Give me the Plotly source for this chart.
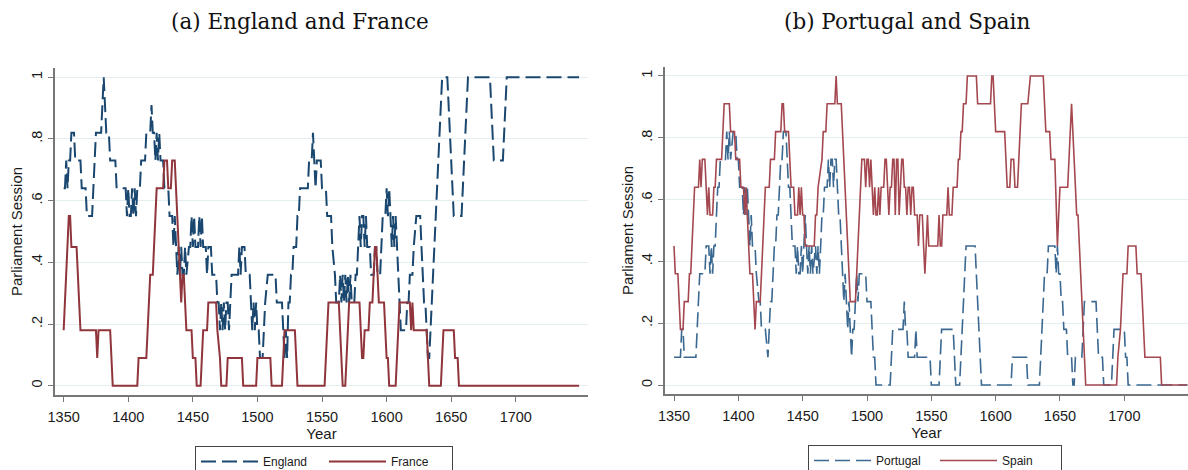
import plotly.graph_objects as go

# ---------------- data (vertices) ----------------
england_year = [1350,1351,1352,1353,1354,1355,1356,1358,1359,1363,1364,1367,1368,1372,1373,1374,1375,1379,1380,1381,1382,1383,1385,1386,1390,1391,1398,1399,1400,1401,1402,1403,1404,1405,1406,1407,1409,1410,1411,1413,1414,1417,1418,1419,1420,1421,1422,1423,1424,1425,1427,1428,1431,1432,1434,1435,1436,1437,1438,1439,1440,1441,1442,1443,1444,1445,1447,1448,1449,1450,1451,1452,1454,1455,1456,1457,1458,1460,1461,1462,1464,1465,1466,1468,1469,1470,1471,1472,1473,1474,1475,1476,1477,1478,1479,1480,1481,1485,1486,1487,1488,1490,1491,1494,1495,1496,1497,1498,1499,1500,1501,1502,1504,1505,1506,1508,1514,1515,1519,1520,1521,1522,1523,1524,1525,1526,1527,1528,1530,1531,1532,1533,1539,1540,1542,1543,1544,1545,1546,1549,1550,1553,1554,1557,1558,1560,1561,1563,1564,1565,1566,1567,1568,1569,1570,1571,1572,1573,1575,1576,1577,1578,1579,1580,1581,1582,1583,1584,1585,1587,1588,1590,1591,1592,1593,1595,1596,1597,1599,1600,1601,1602,1603,1604,1605,1606,1607,1608,1609,1610,1611,1615,1616,1617,1618,1620,1621,1623,1626,1627,1628,1629,1630,1631,1632,1633,1634,1635,1636,1637,1638,1639,1640,1641,1642,1643,1647,1648,1649,1650,1651,1652,1658,1659,1660,1661,1662,1663,1680,1681,1682,1683,1690,1691,1692,1693,1749]
england_val = [.64,.64,.73,.64,.73,.73,.82,.82,.73,.73,.64,.64,.55,.55,.64,.73,.82,.82,.91,1.0,.91,.82,.82,.73,.73,.64,.64,.55,.64,.55,.55,.64,.55,.64,.55,.64,.64,.73,.73,.73,.82,.82,.91,.82,.82,.73,.82,.73,.82,.73,.73,.64,.64,.55,.55,.45,.55,.45,.36,.45,.36,.45,.36,.36,.45,.36,.45,.45,.55,.45,.55,.45,.45,.55,.45,.55,.45,.45,.36,.45,.45,.36,.36,.36,.27,.27,.18,.27,.18,.27,.18,.27,.27,.18,.27,.36,.36,.36,.45,.36,.45,.45,.36,.36,.27,.18,.27,.18,.27,.18,.18,.09,.09,.18,.27,.36,.36,.27,.27,.18,.09,.18,.09,.27,.27,.36,.36,.45,.45,.55,.55,.64,.64,.73,.73,.82,.73,.64,.73,.73,.64,.64,.55,.55,.45,.36,.27,.27,.36,.27,.36,.27,.36,.27,.36,.27,.36,.27,.27,.36,.36,.45,.55,.45,.55,.55,.45,.55,.45,.45,.36,.36,.45,.45,.36,.36,.45,.55,.55,.64,.55,.64,.55,.45,.55,.45,.55,.45,.36,.27,.18,.18,.27,.27,.36,.36,.45,.55,.55,.45,.36,.27,.27,.18,.09,.09,.18,.27,.36,.45,.55,.64,.73,.82,.91,1.0,1.0,.91,.82,.73,.64,.55,.55,.64,.73,.82,.91,1.0,1.0,.91,.82,.73,.73,.82,.91,1.0,1.0]

france_year = [1350,1351,1352,1353,1354,1355,1356,1360,1361,1362,1363,1375,1376,1377,1386,1387,1388,1407,1408,1414,1415,1416,1417,1419,1420,1421,1422,1427,1428,1430,1431,1433,1434,1436,1437,1438,1439,1440,1441,1442,1443,1444,1445,1449,1450,1452,1453,1456,1457,1458,1461,1462,1468,1469,1471,1472,1476,1477,1488,1489,1499,1500,1510,1511,1519,1520,1521,1529,1530,1531,1552,1553,1554,1555,1563,1564,1565,1566,1568,1569,1570,1571,1579,1580,1581,1582,1583,1586,1587,1589,1590,1591,1592,1593,1594,1597,1598,1599,1600,1601,1602,1607,1608,1609,1610,1618,1619,1620,1621,1622,1631,1632,1633,1642,1643,1644,1652,1653,1655,1656,1749]
france_val = [.18,.27,.36,.45,.55,.55,.45,.45,.36,.27,.18,.18,.09,.18,.18,.09,0,0,.09,.09,.18,.27,.36,.36,.45,.55,.64,.64,.73,.73,.64,.64,.73,.73,.64,.55,.45,.36,.27,.36,.36,.27,.18,.18,.09,.09,0,0,.09,.18,.18,.27,.27,.18,.09,0,0,.09,.09,0,0,.09,.09,0,0,.09,.18,.18,.09,0,0,.09,.18,.27,.27,.18,.09,0,0,.09,.18,.27,.27,.18,.09,.09,.18,.18,.27,.27,.36,.45,.45,.36,.27,.27,.27,.18,.09,.09,0,0,.09,.18,.27,.27,.18,.27,.18,.18,.18,.09,0,0,.09,.18,.18,.09,.09,0,0]

portugal_year = [1350,1355,1356,1357,1358,1367,1368,1369,1370,1374,1375,1377,1378,1379,1380,1381,1382,1383,1384,1385,1386,1390,1391,1392,1393,1394,1396,1398,1399,1400,1401,1403,1404,1405,1406,1407,1408,1409,1410,1411,1413,1414,1416,1417,1418,1421,1423,1424,1425,1426,1427,1428,1429,1430,1431,1432,1433,1434,1435,1437,1438,1439,1440,1441,1442,1444,1445,1446,1447,1448,1449,1450,1451,1452,1453,1454,1455,1456,1457,1458,1460,1461,1462,1463,1464,1465,1466,1467,1469,1470,1471,1472,1473,1474,1475,1476,1477,1478,1479,1480,1481,1482,1483,1484,1485,1486,1487,1488,1489,1490,1491,1492,1493,1494,1499,1500,1503,1504,1505,1506,1507,1518,1519,1520,1528,1529,1530,1531,1532,1537,1538,1539,1549,1550,1556,1557,1558,1567,1568,1569,1572,1573,1574,1575,1576,1577,1584,1585,1586,1587,1588,1589,1612,1613,1624,1625,1634,1635,1636,1637,1638,1640,1641,1646,1647,1648,1649,1650,1651,1652,1653,1655,1656,1659,1660,1661,1662,1667,1668,1669,1678,1679,1680,1683,1684,1690,1691,1692,1700,1701,1702,1703,1749]
portugal_val = [.09,.09,.18,.18,.09,.09,.18,.27,.36,.36,.45,.45,.36,.45,.36,.45,.45,.55,.64,.64,.73,.73,.82,.73,.82,.73,.82,.82,.73,.73,.64,.64,.55,.64,.55,.64,.55,.45,.55,.45,.45,.36,.27,.27,.18,.18,.09,.18,.27,.27,.36,.45,.45,.55,.55,.64,.73,.73,.82,.82,.73,.64,.64,.55,.45,.45,.36,.45,.36,.36,.45,.36,.45,.55,.45,.36,.45,.36,.45,.36,.45,.36,.45,.36,.45,.55,.55,.64,.64,.73,.64,.73,.73,.64,.73,.73,.64,.55,.55,.45,.36,.27,.36,.27,.18,.27,.18,.09,.18,.18,.27,.36,.27,.36,.36,.27,.27,.18,.09,.09,0,0,.09,.18,.18,.27,.18,.18,.09,.09,.18,.09,.09,0,0,.09,.18,.18,.09,0,0,.09,.18,.27,.36,.45,.45,.36,.27,.18,.09,0,0,.09,.09,0,0,.09,.18,.27,.36,.36,.45,.45,.36,.45,.36,.36,.27,.27,.18,.18,.09,.09,0,0,.09,.09,.18,.27,.27,.18,.09,.09,0,0,.09,.18,.18,.09,.09,0,0]

spain_year = [1350,1351,1353,1354,1355,1357,1358,1361,1362,1363,1364,1365,1366,1369,1370,1371,1372,1374,1375,1376,1377,1378,1380,1381,1382,1383,1387,1388,1389,1393,1394,1397,1398,1401,1402,1404,1405,1406,1407,1408,1409,1411,1412,1413,1414,1417,1418,1419,1420,1421,1424,1425,1428,1429,1433,1434,1435,1436,1439,1440,1441,1443,1444,1446,1447,1448,1449,1450,1451,1452,1459,1460,1461,1462,1465,1466,1468,1469,1475,1476,1477,1480,1481,1482,1483,1484,1485,1486,1487,1491,1492,1493,1494,1495,1496,1498,1499,1500,1501,1502,1503,1504,1505,1506,1507,1508,1509,1510,1511,1513,1514,1515,1516,1517,1518,1519,1520,1521,1522,1523,1524,1525,1526,1527,1528,1529,1530,1531,1532,1533,1534,1535,1536,1537,1539,1540,1541,1543,1544,1545,1546,1547,1548,1555,1556,1557,1558,1559,1562,1563,1564,1566,1567,1570,1571,1572,1573,1574,1575,1577,1578,1585,1586,1596,1597,1598,1599,1600,1607,1608,1609,1611,1612,1614,1615,1617,1618,1619,1620,1625,1627,1637,1638,1639,1642,1643,1646,1647,1648,1649,1650,1656,1657,1658,1659,1660,1661,1662,1663,1664,1665,1666,1667,1668,1669,1670,1694,1695,1697,1698,1699,1702,1703,1709,1710,1713,1714,1715,1716,1728,1729,1749]
spain_val = [.45,.36,.36,.27,.18,.18,.27,.27,.36,.36,.45,.55,.64,.64,.73,.64,.73,.73,.64,.55,.64,.55,.55,.64,.64,.73,.73,.82,.91,.91,.82,.82,.73,.73,.64,.64,.55,.64,.55,.45,.36,.36,.27,.18,.27,.27,.36,.45,.55,.64,.64,.73,.73,.82,.82,.91,.91,.82,.82,.73,.64,.64,.55,.55,.64,.55,.64,.55,.55,.45,.45,.55,.55,.64,.73,.82,.82,.91,.91,1.0,.91,.91,.82,.73,.64,.55,.45,.36,.27,.27,.36,.45,.55,.64,.73,.73,.64,.73,.73,.64,.73,.64,.55,.64,.55,.55,.64,.55,.64,.64,.73,.73,.64,.55,.64,.64,.73,.73,.55,.73,.73,.55,.64,.73,.73,.64,.64,.55,.64,.64,.55,.64,.64,.55,.55,.45,.55,.55,.45,.36,.45,.55,.45,.45,.55,.45,.45,.55,.55,.64,.55,.55,.64,.64,.73,.73,.82,.82,.91,.91,1.0,1.0,.91,.91,1.0,1.0,.91,.82,.82,.73,.64,.64,.73,.73,.64,.64,.73,.82,.91,.91,1.0,1.0,.91,.82,.82,.73,.73,.55,.45,.55,.64,.64,.73,.82,.91,.82,.73,.64,.55,.55,.45,.36,.27,.18,.09,0,0,.09,.18,.27,.36,.36,.45,.45,.36,.36,.27,.18,.09,.09,0,0]

x_ticks = [1350, 1400, 1450, 1500, 1550, 1600, 1650, 1700]
y_ticks = [0, 0.2, 0.4, 0.6, 0.8, 1.0]
y_tick_text = ["0", ".2", ".4", ".6", ".8", "1"]

titles = ["(a) England and France", "(b) Portugal and Spain"]

# ---------------- styling ----------------
W, H = 1188, 470
NAVY = "#1a476f"
MAROON = "#90353b"
NAVY2 = "#3a6890"
MAROON2 = "#a4474f"
GRID = "#e4edf0"
AXIS = "#777777"
TXT = "#1a1a1a"
FONT = "Liberation Sans, Arial, sans-serif"

fig = go.Figure()
fig.add_trace(go.Scatter(x=england_year, y=england_val, mode="lines", name="England",
                         line=dict(color=NAVY, width=2, dash="15px,6px"),
                         xaxis="x", yaxis="y", legend="legend"))
fig.add_trace(go.Scatter(x=france_year, y=france_val, mode="lines", name="France",
                         line=dict(color=MAROON, width=2),
                         xaxis="x", yaxis="y", legend="legend"))
fig.add_trace(go.Scatter(x=portugal_year, y=portugal_val, mode="lines", name="Portugal",
                         line=dict(color=NAVY2, width=1.6, dash="15px,6px"),
                         xaxis="x2", yaxis="y2", legend="legend2"))
fig.add_trace(go.Scatter(x=spain_year, y=spain_val, mode="lines", name="Spain",
                         line=dict(color=MAROON2, width=1.6),
                         xaxis="x2", yaxis="y2", legend="legend2"))

def xax(domain, rng):
    return dict(domain=domain, range=rng, tickvals=x_ticks, ticks="outside", ticklen=5,
                tickcolor=AXIS, tickwidth=1.2, showline=True, linecolor=AXIS, linewidth=1.5,
                showgrid=False, zeroline=False, automargin=False, ticklabelstandoff=3,
                tickfont=dict(family=FONT, size=14.5, color=TXT),
                title=dict(text="Year", font=dict(family=FONT, size=15, color=TXT), standoff=0))

def yax(domain, anchor, standoff):
    return dict(domain=domain, range=[-0.03, 1.03], tickvals=y_ticks, ticktext=y_tick_text,
                tickangle=-90, ticks="outside", ticklen=5, tickcolor=AXIS, tickwidth=1.2,
                showline=True, linecolor=AXIS, linewidth=1.5, showgrid=True, gridcolor=GRID,
                gridwidth=1.2, zeroline=False, anchor=anchor, automargin=False,
                tickfont=dict(family=FONT, size=14.5, color=TXT),
                title=dict(text="Parliament Session", font=dict(family=FONT, size=15, color=TXT),
                           standoff=standoff))

fig.update_layout(
    width=W, height=H, margin=dict(l=0, r=0, t=0, b=0, autoexpand=False),
    paper_bgcolor="white", plot_bgcolor="white",
    xaxis=dict(**xax([55 / W, 588 / W], [1343.3, 1755.9]), anchor="y"),
    yaxis=yax([1 - 395 / H, 1 - 68 / H], "x", 3),
    xaxis2=dict(**xax([665 / W, 1.0], [1343.0, 1749.5]), anchor="y2"),
    yaxis2=yax([1 - 394.3 / H, 1 - 66.7 / H], "x2", 2),
    legend=dict(orientation="h", x=195 / W, xanchor="left", y=1 - 446 / H, yanchor="top",
                bordercolor="#444", borderwidth=1, bgcolor="white", entrywidth=56,
                itemwidth=57, font=dict(family=FONT, size=12, color=TXT)),
    legend2=dict(orientation="h", x=808 / W, xanchor="left", y=1 - 445 / H, yanchor="top",
                 bordercolor="#444", borderwidth=1, bgcolor="white", entrywidth=54,
                 itemwidth=57, font=dict(family=FONT, size=12, color=TXT)),
    showlegend=True,
)

fig.add_annotation(text=titles[0], x=300 / W, y=1 - 22 / H, xref="paper", yref="paper",
                   xanchor="center", yanchor="middle",
                   showarrow=False, font=dict(family="DejaVu Serif", size=21.5, color="#111"))
fig.add_annotation(text=titles[1], x=907 / W, y=1 - 22 / H, xref="paper", yref="paper",
                   xanchor="center", yanchor="middle",
                   showarrow=False, font=dict(family="DejaVu Serif", size=21.5, color="#111"))

fig.write_html("out.html", config={"displayModeBar": False},
               post_script="document.body.style.margin='0';")
